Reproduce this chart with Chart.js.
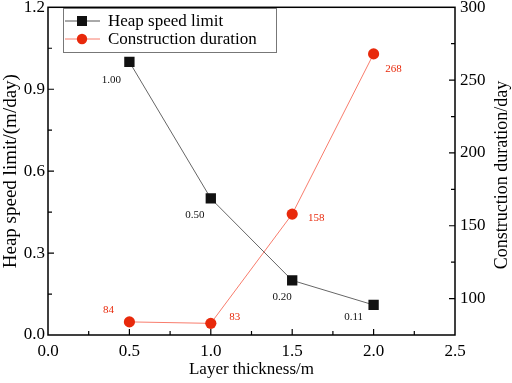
<!DOCTYPE html>
<html><head><meta charset="utf-8">
<script src="https://cdn.jsdelivr.net/npm/chart.js@4"></script>
<style>html,body{margin:0;padding:0;background:#fff}#c{display:block}</style>
</head><body>
<canvas id="c" width="512" height="383"></canvas>
<script>
const thickness = [0.5, 1.0, 1.5, 2.0];
const heapSpeed = [1.00, 0.50, 0.20, 0.11];
const duration = [84, 83, 158, 268];
const heapLabels = ['1.00', '0.50', '0.20', '0.11'];
const durationLabels = ['84', '83', '158', '268'];
const rightTicks = [100, 150, 200, 250, 300];

const RED = '#e8290b', REDLINE = '#f87c6c', BLACK = '#111';
const FONT = '"Liberation Serif", "Times New Roman", serif';

const heapOff = [[-18, 18], [-16, 17], [-10, 17], [-20, 12]];
const durOff = [[-21, -12], [24, -6], [24, 4], [20, 15]];

const overlay = {
  id: 'overlay',
  afterDatasetsDraw(chart) {
    const ctx = chart.ctx, a = chart.chartArea;
    const sx = chart.scales.x, sy = chart.scales.y, sy1 = chart.scales.y1;
    ctx.save();
    // frame
    ctx.strokeStyle = '#000'; ctx.lineWidth = 1.5;
    ctx.strokeRect(a.left, a.top, a.right - a.left, a.bottom - a.top);
    // inward ticks
    ctx.lineWidth = 1.2;
    ctx.beginPath();
    for (let v = 0.25; v < 2.5; v += 0.25) {
      const px = sx.getPixelForValue(v);
      const len = (Math.round(v * 4) % 2 === 0) ? 6 : 4;
      ctx.moveTo(px, a.bottom); ctx.lineTo(px, a.bottom - len);
    }
    for (let v = 0.15; v < 1.2; v += 0.15) {
      const py = sy.getPixelForValue(v);
      const len = (Math.round(v / 0.15) % 2 === 0) ? 6 : 4;
      ctx.moveTo(a.left, py); ctx.lineTo(a.left + len, py);
    }
    for (let v = 100; v < 300; v += 25) {
      const py = sy1.getPixelForValue(v);
      const len = (v % 50 === 0) ? 6 : 4;
      ctx.moveTo(a.right, py); ctx.lineTo(a.right - len, py);
    }
    ctx.stroke();
    // data labels
    ctx.font = '11px ' + FONT;
    ctx.textAlign = 'center'; ctx.textBaseline = 'middle';
    const m0 = chart.getDatasetMeta(0).data, m1 = chart.getDatasetMeta(1).data;
    ctx.fillStyle = BLACK;
    m0.forEach((p, i) => ctx.fillText(heapLabels[i], p.x + heapOff[i][0], p.y + heapOff[i][1]));
    ctx.fillStyle = RED;
    m1.forEach((p, i) => ctx.fillText(durationLabels[i], p.x + durOff[i][0], p.y + durOff[i][1]));
    // legend
    const lx = 63, ly = 8, lw = 213, lh = 44;
    ctx.fillStyle = '#fff'; ctx.fillRect(lx, ly, lw, lh);
    ctx.strokeStyle = '#777'; ctx.lineWidth = 1; ctx.strokeRect(lx + 0.5, ly + 0.5, lw, lh);
    const rows = [
      {y: ly + 13, line: '#555', text: chart.data.datasets[0].label, mk: 'sq'},
      {y: ly + 31, line: REDLINE, text: chart.data.datasets[1].label, mk: 'ci'}
    ];
    rows.forEach(r => {
      ctx.strokeStyle = r.line; ctx.lineWidth = 1;
      ctx.beginPath(); ctx.moveTo(lx + 2, r.y); ctx.lineTo(lx + 37, r.y); ctx.stroke();
      if (r.mk === 'sq') { ctx.fillStyle = BLACK; ctx.fillRect(lx + 14, r.y - 5, 10, 10); }
      else { ctx.fillStyle = RED; ctx.beginPath(); ctx.arc(lx + 19, r.y, 5.2, 0, Math.PI * 2); ctx.fill(); }
      ctx.fillStyle = '#000'; ctx.font = '17px ' + FONT; ctx.textAlign = 'left';
      ctx.fillText(r.text, lx + 45, r.y + 1);
    });
    // right axis title (reads bottom-to-top)
    ctx.save();
    ctx.translate(502, 175);
    ctx.rotate(-Math.PI / 2);
    ctx.textAlign = 'center'; ctx.textBaseline = 'middle';
    ctx.font = '18px ' + FONT; ctx.fillStyle = '#000';
    ctx.fillText('Construction duration/day', 0, 0);
    ctx.restore();
    ctx.restore();
  }
};

function zeroPad(s) { s.paddingTop = 0; s.paddingBottom = 0; s.paddingLeft = 0; s.paddingRight = 0; }

new Chart(document.getElementById('c'), {
  type: 'line',
  data: {
    datasets: [
      {
        label: 'Heap speed limit',
        data: thickness.map((x, i) => ({x, y: heapSpeed[i]})),
        yAxisID: 'y', borderColor: '#666', borderWidth: 1,
        pointStyle: 'rect', pointRadius: 7.3, pointBackgroundColor: BLACK, pointBorderColor: BLACK,
        pointBorderWidth: 0, tension: 0
      },
      {
        label: 'Construction duration',
        data: thickness.map((x, i) => ({x, y: duration[i]})),
        yAxisID: 'y1', borderColor: REDLINE, borderWidth: 1,
        pointStyle: 'circle', pointRadius: 5.6, pointBackgroundColor: RED, pointBorderColor: RED,
        pointBorderWidth: 0, tension: 0
      }
    ]
  },
  options: {
    responsive: false, animation: false, devicePixelRatio: 1,
    layout: {padding: {top: 7, left: 0, right: 0, bottom: 0}},
    plugins: {legend: {display: false}, tooltip: {enabled: false}},
    scales: {
      x: {
        type: 'linear', min: 0, max: 2.5,
        ticks: {stepSize: 0.5, color: '#000', font: {family: FONT, size: 17}, padding: 6,
                callback: v => v.toFixed(1)},
        grid: {display: false, drawTicks: false},
        border: {display: false},
        title: {display: true, text: 'Layer thickness/m', color: '#000', font: {family: FONT, size: 17}, padding: {top: 0, bottom: 3}},
        afterFit: s => { s.height = 48; zeroPad(s); }
      },
      y: {
        position: 'left', min: 0, max: 1.2,
        ticks: {stepSize: 0.3, color: '#000', font: {family: FONT, size: 17}, padding: 3,
                callback: v => v.toFixed(1)},
        grid: {display: false, drawTicks: false},
        border: {display: false},
        title: {display: true, text: 'Heap speed limit/(m/day)', color: '#000', font: {family: FONT, size: 19}, padding: {top: 0, bottom: 0}},
        afterFit: s => { s.width = 48; zeroPad(s); }
      },
      y1: {
        position: 'right', min: 75, max: 300,
        afterBuildTicks: s => { s.ticks = rightTicks.map(v => ({value: v})); },
        ticks: {color: '#000', font: {family: FONT, size: 17}, padding: 5},
        grid: {display: false, drawTicks: false},
        border: {display: false},
        title: {display: false},
        afterFit: s => { s.width = 57; zeroPad(s); }
      }
    }
  },
  plugins: [overlay]
});
</script>
</body></html>
